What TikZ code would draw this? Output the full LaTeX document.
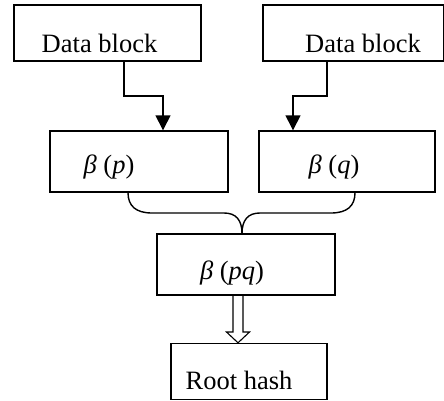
\documentclass[tikz,border=0pt]{standalone}
\usepackage{fontspec}
\setmainfont{Liberation Serif}
\usetikzlibrary{arrows.meta,calc}
\newcommand{\mi}[1]{{\itshape #1}}
\begin{document}
\begin{tikzpicture}[x=1pt,y=-1pt,
  blk/.style={draw,line width=1.4pt,inner sep=0pt},
  lbl/.style={inner sep=0pt,font=\fontsize{26.5}{30}\selectfont},
  conn/.style={line width=1.4pt,-{Triangle[width=15pt,length=15pt]}},
  brace/.style={line width=1.4pt}]
\useasboundingbox (0,0) rectangle (444,400);
% boxes
\node[blk,minimum width=187pt,minimum height=56pt] (d1) at (107.5,33) {};
\node[blk,minimum width=181pt,minimum height=56pt] (d2) at (353.5,33) {};
\node[blk,minimum width=178pt,minimum height=61pt] (bp) at (139,161.5) {};
\node[blk,minimum width=176pt,minimum height=61pt] (bq) at (347,161.5) {};
\node[blk,minimum width=178pt,minimum height=61pt] (bpq) at (246,264.5) {};
\node[blk,minimum width=156pt,minimum height=56pt] (rh) at (249,371.5) {};
% texts
\node[lbl] (t1) at (99.5,43) {Data block};
\node[lbl] (t2) at (363,43) {Data block};
\node[lbl] (t3) at (109,167) {\mi{β} (\mi{p})};
\node[lbl] (t4) at (334,167) {\mi{β} (\mi{q})};
\node[lbl] (t5) at (232,273) {\mi{β} (\mi{pq})};
\node[lbl] (t6) at (239,380) {Root hash};
% arrows from data blocks
\draw[conn] (d1.south -| 124,0) |- (163,96) -- (bp.north -| 163,0);
\draw[conn] (d2.south -| 327,0) |- (293,96) -- (bq.north -| 293,0);
% brace
\coordinate (cusp) at (242,233.5);
\draw[brace] (bp.south -| 128,0) .. controls (128,206) and (136,213) .. (152,213) -- (224,213)
  .. controls (236,213) and (242,220) .. (cusp);
\draw[brace] (bq.south -| 355,0) .. controls (355,206) and (347,213) .. (331,213) -- (260,213)
  .. controls (248,213) and (242,220) .. (cusp);
% double arrow
\coordinate (a1) at (bpq.south -| 238,0);
\coordinate (a2) at (rh.north -| 238,0);
\draw[line width=1.1pt] (a1 -| 233,0) -- (233,332) -- (226.5,332) -- (a2) -- (249.5,332) -- (243,332) -- (a1 -| 243,0);
\end{tikzpicture}
\end{document}
